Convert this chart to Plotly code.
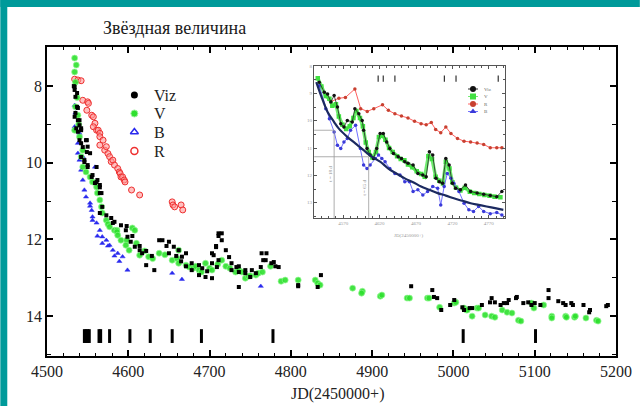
import plotly.graph_objects as go

# ---------------- data ----------------
viz_pts = [(4533,8.00),(4534,8.02),(4534,8.10),(4537,8.18),(4535,8.28),(4537,8.54),(4538,8.57),(4535,8.70),(4534,8.80),
 (4538,8.89),(4540,8.89),(4540,9.02),(4536,9.10),(4542,9.10),(4542,9.15),(4538,9.19),(4540,9.41),(4548,9.41),(4549,9.41),
 (4542,9.49),(4550,9.58),(4544,9.59),(4549,9.72),(4553,9.75),(4542,9.85),(4546,9.93),(4546,9.98),(4550,10.06),(4550,10.11),
 (4561,10.11),(4556,10.32),(4555,10.37),(4562,10.45),(4561,10.50),(4559,10.53),(4565,10.58),(4565,10.64),(4565,10.79),
 (4567,10.79),(4568,11.15),(4565,11.31),(4573,11.37),(4579,11.44),(4583,11.54),(4581,11.57),(4591,11.63),(4598,11.65),
 (4597,11.76),(4605,11.91),(4599,11.93),(4638,12.02),(4642,12.02),(4603,12.06),(4650,12.06),(4614,12.17),(4647,12.17),
 (4608,12.19),(4656,12.19),(4614,12.28),(4662,12.28),(4622,12.30),(4617,12.36),(4650,12.36),(4671,12.36),(4629,12.43),
 (4659,12.43),(4666,12.45),(4665,12.57),(4678,12.62),(4622,12.67),(4687,12.67),(4671,12.70),(4632,12.80),(4678,12.80),
 (4687,12.93),(4695,12.98),(4703,13.01),(4691,12.75),(4697,12.83),(4703,12.36),(4708,12.17),(4711,11.91),(4715,11.84),
 (4711,11.84),(4715,12.02),(4708,12.20),(4705,12.41),(4711,12.54),(4703,12.62),(4709,12.72),(4720,12.28),(4724,12.46),
 (4727,12.62),(4727,12.80),(4733,12.72),(4736,12.70),(4736,12.85),(4744,12.80),(4744,12.88),(4750,12.98),(4752,12.80),
 (4757,12.88),(4763,12.72),(4764,12.36),(4766,12.54),(4769,12.54),(4770,12.36),(4776,12.62),(4779,12.59),(4781,12.70),
 (4785,12.72),(4736,13.24),(4809,13.19),(4809,13.22),(4833,13.24),(4837,12.93),(4948,13.22),(4974,13.32),(4976,13.50),
 (4980,13.53),(4985,13.84),(4996,13.71),(5001,13.58),(5011,13.77),(5013,13.84),(5020,13.79),(5023,13.79),(5035,13.71),
 (5045,13.64),(5047,13.53),(5051,13.64),(5058,13.71),(5062,13.66),(5066,13.66),(5068,13.58),(5077,13.53),(5078,13.50),
 (5086,13.66),(5092,13.64),(5096,13.71),(5100,13.66),(5107,13.71),(5117,13.32),(5117,13.53),(5129,13.61),(5135,13.66),
 (5138,13.71),(5145,13.66),(5147,13.71),(5160,13.71),(5167,13.90),(5168,13.84),(5188,13.74),(5190,13.71)]

v_pts = [(4534,7.27),(4536,7.45),(4534,7.63),(4535,7.90),(4537,8.30),(4535,8.54),(4538,8.76),(4539,9.00),(4534,9.15),
 (4540,9.32),(4544,9.67),(4542,9.84),(4544,10.11),(4548,10.24),(4553,10.37),(4556,10.50),(4561,10.63),(4562,10.79),
 (4565,10.97),(4567,11.15),(4568,11.31),(4573,11.50),(4575,11.60),(4577,11.67),(4583,11.76),(4586,11.76),(4586,11.80),
 (4587,11.89),(4591,12.02),(4598,12.02),(4597,12.15),(4601,12.28),(4605,11.70),(4608,11.76),(4610,12.10),(4614,12.41),
 (4620,12.30),(4625,12.45),(4630,12.50),(4638,12.36),(4645,12.40),(4654,12.54),(4660,12.50),(4662,12.28),(4662,12.62),
 (4671,12.67),(4675,12.72),(4680,12.75),(4683,12.70),(4687,12.80),(4690,12.85),(4695,12.62),(4700,12.75),(4703,12.80),
 (4710,12.65),(4715,12.54),(4720,12.70),(4725,12.75),(4732,12.85),(4736,12.80),(4740,12.85),(4744,13.01),(4748,12.96),
 (4750,12.95),(4757,12.93),(4760,12.88),(4765,12.85),(4775,12.70),(4788,13.09),(4793,13.06),(4809,13.06),(4830,13.06),
 (4833,13.14),(4836,13.19),(4876,13.27),(4888,13.35),(4887,13.40),(4910,13.48),(4912,13.45),(4943,13.53),(4946,13.53),
 (4968,13.53),(4970,13.53),(4983,13.77),(5001,13.66),(5003,13.64),(5013,13.79),(5016,13.84),(5017,13.84),(5023,14.00),
 (5029,13.79),(5031,13.79),(5039,13.97),(5047,14.00),(5051,14.03),(5060,13.84),(5066,13.90),(5072,13.92),(5080,14.11),
 (5083,14.13),(5096,13.66),(5099,13.79),(5111,13.71),(5121,14.00),(5121,14.05),(5138,14.00),(5139,14.03),(5149,14.03),
 (5150,14.00),(5163,14.05),(5176,14.11),(5178,14.13)]

b_pts = [(4534,8.50),(4535,8.70),(4534,9.06),(4540,9.23),(4538,9.49),(4538,9.75),(4544,9.84),(4540,9.93),(4559,10.11),
 (4542,10.19),(4544,10.45),(4546,10.71),(4548,10.89),(4553,11.05),(4553,11.13),(4555,11.24),(4556,11.41),(4556,11.50),
 (4561,11.57),(4565,11.76),(4562,11.91),(4568,11.93),(4573,12.02),(4568,12.10),(4577,12.15),(4575,12.17),(4581,12.28),
 (4587,12.36),(4583,12.43),(4593,12.45),(4589,12.57),(4599,12.80),(4654,12.88),(4666,13.04),(4763,13.22)]

r_pts = [(4534,7.82),(4538,7.84),(4542,7.86),(4544,8.37),(4549,8.63),(4550,8.41),(4551,8.45),(4555,8.76),(4557,8.80),
 (4559,8.97),(4557,9.06),(4561,9.15),(4563,9.15),(4565,9.23),(4565,9.32),(4569,9.41),(4565,9.54),(4571,9.67),(4573,9.58),
 (4575,9.76),(4577,9.84),(4579,9.97),(4581,9.93),(4583,10.06),(4587,10.15),(4589,10.24),(4590,10.28),(4591,10.37),
 (4593,10.37),(4595,10.45),(4596,10.50),(4604,10.71),(4614,10.84),(4654,11.02),(4655,11.10),(4657,11.15),(4665,11.10),
 (4667,11.23)]

epochs = [4546, 4548, 4550, 4552, 4564, 4566, 4577, 4602, 4627, 4654, 4690, 4778, 5012, 5101]
epoch_mag = (14.34, 14.70)

# inset data
in_viz = [(4537,8.59),(4544,8.96),(4548.5,9.02),(4553,9.32),(4557.5,9.08),(4562,9.50),(4566.6,10.11),(4571,10.23),
 (4575.6,9.99),(4582.4,10.05),(4586,9.56),(4591.4,9.75),(4596,9.99),(4598,10.35),(4602.7,11.02),(4607,11.26),
 (4611.7,11.38),(4616,11.02),(4620.7,10.47),(4625,10.47),(4629.7,10.78),(4634,11.02),(4639,11.20),(4645.5,11.32),
 (4650,11.38),(4654.6,11.50),(4659,11.56),(4666,11.62),(4672.6,11.93),(4679.4,11.99),(4684,12.05),(4688.4,11.14),
 (4693,11.26),(4697.4,12.11),(4702,12.23),(4706.5,12.29),(4711,11.38),(4715.5,11.62),(4720,12.29),(4724.5,12.47),
 (4731,12.53),(4738,12.35),(4745,12.59),(4754,12.65),(4763,12.69),(4772,12.74),(4781,12.78),(4788,12.59)]
in_v = [(4535,8.45),(4540,8.75),(4546,9.10),(4551,9.20),(4555,9.45),(4560,9.40),(4564,9.85),(4569,10.15),(4574,10.30),
 (4579,10.20),(4584,9.90),(4588,9.65),(4593,9.90),(4597,10.20),(4601,10.80),(4605,11.15),(4610,11.35),(4615,11.15),
 (4619,10.60),(4624,10.55),(4628,10.70),(4633,11.00),(4638,11.15),(4644,11.30),(4649,11.40),(4654,11.45),(4659,11.60),
 (4665,11.70),(4671,11.85),(4677,11.95),(4682,12.05),(4687,11.30),(4692,11.40),(4697,12.05),(4702,12.20),(4707,12.30),
 (4711,11.50),(4716,11.75),(4720,12.25),(4725,12.45),(4731,12.55),(4737,12.45),(4744,12.60),(4750,12.65),(4757,12.68),
 (4764,12.72),(4771,12.75),(4778,12.78),(4786,12.80)]
in_r = [(4553,9.30),(4564,9.18),(4573,9.15),(4586,8.84),(4594,9.56),(4603,9.66),(4612,9.56),(4624,9.42),(4632,9.62),
 (4641,9.75),(4650,9.83),(4659,9.90),(4668,10.02),(4677,10.11),(4684,10.15),(4691,10.07),(4697,10.32),(4704,10.44),
 (4711,10.23),(4718,10.47),(4727,10.65),(4736,10.75),(4745,10.78),(4754,10.82),(4763,10.87),(4772,10.99),(4781,10.99),
 (4788,10.99)]
in_b = [(4537,8.72),(4546,9.56),(4551,9.93),(4557.5,10.41),(4562,10.90),(4566.6,11.02),(4571,10.78),(4575.6,10.65),
 (4580,10.35),(4587,10.17),(4593.6,11.02),(4598,11.62),(4602.7,11.75),(4607,11.62),(4614,11.38),(4618.5,11.26),
 (4623,11.38),(4627.5,11.50),(4634,11.75),(4641,11.93),(4648,11.99),(4654.6,12.23),(4661,12.23),(4666,12.59),
 (4672.6,12.53),(4679.4,12.72),(4686,12.59),(4693,12.41),(4699.7,12.47),(4704,13.08),(4708.7,12.41),(4713,11.93),
 (4718,12.11),(4722,12.29),(4729,12.59),(4736,13.02),(4742.6,13.26),(4749,13.32),(4756,13.14),(4763,13.32),
 (4772,13.40),(4781,13.36),(4788,13.45)]
in_fit = [(4533,8.59),(4539.5,9.08),(4548.5,9.68),(4557.5,10.05),(4564,10.29),(4575.6,10.59),(4587,10.84),(4598,11.08),
 (4609.4,11.32),(4620.7,11.50),(4632,11.75),(4643,11.93),(4654.6,12.11),(4666,12.25),(4677,12.41),(4688.4,12.53),
 (4699.7,12.65),(4711,12.74),(4722,12.84),(4733.6,12.93),(4745,13.02),(4756,13.08),(4767,13.14),(4778.7,13.20),
 (4790,13.26)]
in_epochs = [4618, 4625, 4641, 4709, 4725, 4783]
in_epoch_mag = (8.35, 8.58)
in_guides = [(4557.5, 10.35), (4605, 11.32)]
in_guide_labels = ["t = 18 d", "t = 65 d"]

legend_names = ["Viz", "V", "B", "R"]
inset_legend_names = ["Viz", "V", "R", "B"]

# ---------------- layout geometry (pixels of the 644x406 page) ----------------
W, H = 644, 406
ML, MR, MT, MB = 47, 24, 47, 50
PW, PH = W - ML - MR, H - MT - MB
def fx(p): return (p - ML) / PW
def fy(p): return (H - MB - p) / PH

# inset box in page pixels and its axis ranges
IN_L, IN_R, IN_T, IN_B = 316, 508, 66, 218
IN_XR = (4530, 4792)
IN_YR = (8.0, 13.56)
def ix(p): return IN_XR[0] + (p - IN_L) * (IN_XR[1] - IN_XR[0]) / (IN_R - IN_L)
def iy(p): return IN_YR[0] + (p - IN_T) * (IN_YR[1] - IN_YR[0]) / (IN_B - IN_T)
# main axes ranges
MX = (4500, 5200)
MY = (6.98, 15.04)
def mx(p): return MX[0] + (p - ML) * (MX[1] - MX[0]) / PW
def my(p): return MY[0] + (p - MT) * (MY[1] - MY[0]) / PH

def xs(pts): return [p[0] for p in pts]
def ys(pts): return [p[1] for p in pts]

SERIF = "Liberation Serif"
fig = go.Figure()

# main scatter
fig.add_trace(go.Scatter(x=xs(r_pts), y=ys(r_pts), mode="markers", showlegend=False,
    marker=dict(symbol="circle", size=6, color="rgba(255,150,150,0.6)", line=dict(color="#ee3030", width=1))))
fig.add_trace(go.Scatter(x=xs(b_pts), y=ys(b_pts), mode="markers", showlegend=False,
    marker=dict(symbol="triangle-up", size=4.5, color="#2a2aee", line=dict(color="#2a2aee", width=0.5))))
fig.add_trace(go.Scatter(x=xs(v_pts), y=ys(v_pts), mode="markers", showlegend=False,
    marker=dict(symbol="circle", size=6, color="#2ee02e", opacity=0.9, line=dict(color="rgba(140,250,140,0.7)", width=1))))
fig.add_trace(go.Scatter(x=xs(viz_pts), y=ys(viz_pts), mode="markers", showlegend=False,
    marker=dict(symbol="square", size=4, color="#000000")))

# epoch bars
bx, by = [], []
for e in epochs:
    bx += [e, e, None]
    by += [epoch_mag[0], epoch_mag[1], None]
fig.add_trace(go.Scatter(x=bx, y=by, mode="lines", showlegend=False, line=dict(color="black", width=3)))

# main legend keys (placed by page pixels converted through the main axes)
leg_rows_px = [95, 113.5, 132, 151]
leg_key_x, leg_text_x = 135, 153
leg_styles = [dict(symbol="circle", size=7, color="black"),
              dict(symbol="circle", size=7, color="#2ee02e", line=dict(color="#9ff59f", width=1)),
              dict(symbol="triangle-up-open", size=7, color="#2a2aee", line=dict(width=1.5)),
              dict(symbol="circle-open", size=7, color="#ee3030", line=dict(width=1.5))]
for st, rp in zip(leg_styles, leg_rows_px):
    fig.add_trace(go.Scatter(x=[mx(leg_key_x)], y=[my(rp)], mode="markers",
                             showlegend=False, marker=st, hoverinfo="skip"))

# inset traces
I = dict(xaxis="x2", yaxis="y2", showlegend=False)
fig.add_trace(go.Scatter(x=xs(in_r), y=ys(in_r), mode="lines+markers", **I,
    line=dict(color="#ff6060", width=1), marker=dict(size=3.5, color="#c84030")))
fig.add_trace(go.Scatter(x=xs(in_v), y=ys(in_v), mode="lines+markers", **I,
    line=dict(color="#70ec70", width=3.5), marker=dict(symbol="square", size=4.5, color="#40e040")))
fig.add_trace(go.Scatter(x=xs(in_b), y=ys(in_b), mode="lines+markers", **I,
    line=dict(color="#7070ff", width=1), marker=dict(size=3.5, color="#3a3ad8")))
fig.add_trace(go.Scatter(x=xs(in_viz), y=ys(in_viz), mode="lines+markers", **I,
    line=dict(color="#222222", width=0.8), marker=dict(size=3.5, color="#111111")))
fig.add_trace(go.Scatter(x=xs(in_fit), y=ys(in_fit), mode="lines", **I,
    line=dict(color="#1c2a60", width=2.2, shape="spline")))
ibx, iby = [], []
for e in in_epochs:
    ibx += [e, e, None]
    iby += [in_epoch_mag[0], in_epoch_mag[1], None]
fig.add_trace(go.Scatter(x=ibx, y=iby, mode="lines", **I, line=dict(color="#333333", width=1.2)))

# inset legend keys (page pixels converted through inset axes)
il_rows_px = [89, 96.5, 104, 111.5]
il_styles = [("#111111", "circle", "#222222"), ("#40e040", "square", "#70ec70"),
             ("#c84030", "circle", "#ff6060"), ("#3a3ad8", "triangle-up", "#7070ff")]
for rp, (mc, sym, lc) in zip(il_rows_px, il_styles):
    fig.add_trace(go.Scatter(x=[ix(471), ix(481)], y=[iy(rp), iy(rp)], mode="lines", **I,
                             line=dict(color=lc, width=1.2), hoverinfo="skip"))
    fig.add_trace(go.Scatter(x=[ix(476)], y=[iy(rp)], mode="markers", **I,
                             marker=dict(symbol=sym, size=6, color=mc), hoverinfo="skip"))

annotations = [
    dict(text="Звёздная величина", x=fx(175), y=fy(28), xref="paper", yref="paper", showarrow=False,
         font=dict(family=SERIF, size=18, color="#1a1a1a"), xanchor="center", yanchor="middle"),
    dict(text="JD(2450000+)", x=fx(340), y=fy(394), xref="paper", yref="paper", showarrow=False,
         font=dict(family=SERIF, size=16, color="#222"), xanchor="center", yanchor="middle"),
    dict(text="JD(2450000+)", x=fx(412), y=fy(236), xref="paper", yref="paper", showarrow=False,
         font=dict(family=SERIF, size=5, color="#999"), xanchor="center", yanchor="middle"),
]
for name, rp in zip(legend_names, leg_rows_px):
    annotations.append(dict(text=name, x=fx(leg_text_x), y=fy(rp), xref="paper", yref="paper", showarrow=False,
                            xanchor="left", yanchor="middle", font=dict(family=SERIF, size=16, color="#222")))
for (gx, gy), lab in zip(in_guides, in_guide_labels):
    annotations.append(dict(text=lab, x=gx, y=(gy + IN_YR[1]) / 2, xref="x2", yref="y2", showarrow=False,
                            textangle=-90, xanchor="right", font=dict(family=SERIF, size=5, color="#888")))
for name, rp in zip(inset_legend_names, il_rows_px):
    annotations.append(dict(text=name, x=fx(485), y=fy(rp), xref="paper", yref="paper", showarrow=False,
                            xanchor="left", yanchor="middle", font=dict(family=SERIF, size=5, color="#666")))

shapes = [
    dict(type="rect", xref="paper", yref="paper", x0=fx(0), x1=fx(7), y0=fy(H), y1=fy(0),
         fillcolor="#009a9a", line=dict(width=0), layer="above"),
    dict(type="rect", xref="paper", yref="paper", x0=fx(0), x1=fx(W), y0=fy(7), y1=fy(0),
         fillcolor="#009a9a", line=dict(width=0), layer="above"),
]
for gx, gy in in_guides:
    shapes.append(dict(type="line", xref="x2", yref="y2", x0=gx, x1=gx, y0=gy, y1=IN_YR[1],
                       line=dict(color="#999", width=0.8)))
    shapes.append(dict(type="line", xref="x2", yref="y2", x0=IN_XR[0], x1=gx, y0=gy, y1=gy,
                       line=dict(color="#999", width=0.8)))

axis_common = dict(showline=True, linecolor="black", linewidth=1.5, mirror="allticks", ticks="inside",
                   ticklen=6, tickwidth=1.5, tickcolor="black", showgrid=False, zeroline=False,
                   tickfont=dict(family=SERIF, size=16, color="#222"))
inset_common = dict(showline=True, linecolor="#555", linewidth=1, mirror="allticks", ticks="inside",
                    ticklen=3, tickwidth=0.8, tickcolor="#555", showgrid=False, zeroline=False,
                    tickfont=dict(family=SERIF, size=5, color="#999"))

fig.update_layout(
    width=W, height=H, margin=dict(l=ML, r=MR, t=MT, b=MB),
    paper_bgcolor="white", plot_bgcolor="white", showlegend=False,
    xaxis=dict(range=list(MX), tick0=4500, dtick=100, domain=[0, 1],
               minor=dict(dtick=20, ticks="inside", ticklen=3, tickcolor="black", tickwidth=1), **axis_common),
    yaxis=dict(range=[MY[1], MY[0]], tick0=8, dtick=2, domain=[0, 1],
               minor=dict(dtick=1, ticks="inside", ticklen=4, tickcolor="black", tickwidth=1), **axis_common),
    xaxis2=dict(domain=[fx(IN_L), fx(IN_R)], anchor="y2", range=list(IN_XR), tick0=4570, dtick=50,
                minor=dict(dtick=10, ticks="inside", ticklen=2, tickcolor="#555"), **inset_common),
    yaxis2=dict(domain=[fy(IN_B), fy(IN_T)], anchor="x2", range=[IN_YR[1], IN_YR[0]], tick0=8, dtick=1,
                minor=dict(dtick=0.5, ticks="inside", ticklen=2, tickcolor="#555"), **inset_common),
    annotations=annotations, shapes=shapes,
)

fig.write_html("out.html", config={"displayModeBar": False},
               post_script="document.body.style.margin='0';document.body.style.overflow='hidden';")
